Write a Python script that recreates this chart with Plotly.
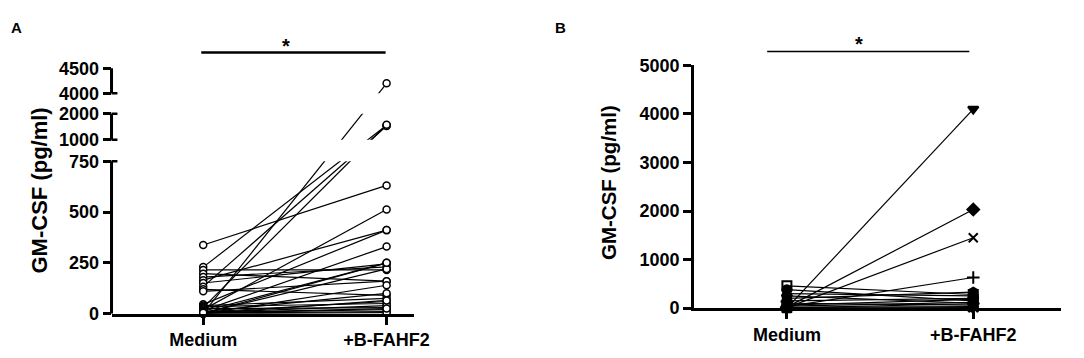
import plotly.graph_objects as go

W, H = 1084, 358
OFF = 8                      # default page margin of the html body
FW, FH = W - 2 * OFF, H - 2 * OFF
FONT = "Liberation Sans, Arial, sans-serif"

# ---------------- data ----------------
conditions = ["Medium", "+B-FAHF2"]

# Panel A (pg/ml), one value per donor
a_medium = [338, 229, 215, 197, 180, 165, 151, 133, 120, 110, 46, 40, 35, 30, 25,
            20, 15, 12, 10, 8, 6, 5, 4, 3, 2, 1, 0, 0, 0, 5]
a_bfahf2 = [631, 1560, 215, 160, 230, 411, 245, 1530, 90, 160, 411, 75, 50, 1580, 30,
            512, 330, 250, 100, 60, 40, 20, 10, 220, 250, 4200, 5, 65, 140, 25]
a_tick_values = [0, 250, 500, 750, 1000, 2000, 4000, 4500]
a_segments = [(0, 750), (1000, 2000), (4000, 4500)]

# Panel B (pg/ml)
b_medium = [0, 20, 10, 30, 460, 380, 300, 250, 200, 150, 100, 60, 40, 15, 5, 0]
b_bfahf2 = [4100, 2030, 1450, 630, 280, 150, 250, 100, 330, 200, 60, 180, 120, 30, 90, 10]
b_symbols = ["triangle-down", "diamond", "x-thin", "cross-thin", "square-open",
             "circle", "triangle-up", "circle", "hexagon", "pentagon", "star",
             "square", "triangle-left", "triangle-right", "hourglass", "bowtie"]
b_tick_values = [0, 1000, 2000, 3000, 4000, 5000]

# ---------------- layout helpers (positions only, in window pixels) ----------------
def pxx(x):
    return min(max((x - OFF) / FW, 0), 1)

def pxy(y):
    return min(max(1 - (y - OFF) / FH, 0), 1)

# broken axis: display extents (pixels above the baseline) for each segment
seg_display = [(0, 164), (187, 215), (237, 264)]

def brk(v):
    for (lo, hi), (d0, d1) in zip(a_segments, seg_display):
        if lo <= v <= hi:
            return d0 + (v - lo) * (d1 - d0) / (hi - lo)
    for i in range(len(a_segments) - 1):
        hi = a_segments[i][1]
        lo2 = a_segments[i + 1][0]
        if hi < v < lo2:
            d_hi = seg_display[i][1]
            d_lo2 = seg_display[i + 1][0]
            return d_hi + (v - hi) * (d_lo2 - d_hi) / (lo2 - hi)
    return seg_display[-1][1]

fig = go.Figure()

# ---------------- Panel A ----------------
xa, ya = [], []
for m, b in zip(a_medium, a_bfahf2):
    xa += [0, 1, None]
    ya += [brk(m), brk(b), None]
fig.add_trace(go.Scatter(x=xa, y=ya, mode="lines", line=dict(color="black", width=1.2),
                         xaxis="x", yaxis="y", hoverinfo="skip", showlegend=False))
fig.add_trace(go.Scatter(
    x=[0] * len(a_medium) + [1] * len(a_bfahf2),
    y=[brk(v) for v in a_medium] + [brk(v) for v in a_bfahf2],
    mode="markers",
    marker=dict(symbol="circle", size=7, color="white", line=dict(color="black", width=1.5)),
    xaxis="x", yaxis="y", showlegend=False, cliponaxis=False))

# ---------------- Panel B ----------------
xb, yb = [], []
for m, b in zip(b_medium, b_bfahf2):
    xb += [0, 1, None]
    yb += [m, b, None]
fig.add_trace(go.Scatter(x=xb, y=yb, mode="lines", line=dict(color="black", width=1.2),
                         xaxis="x2", yaxis="y2", hoverinfo="skip", showlegend=False))
fig.add_trace(go.Scatter(
    x=[0] * len(b_medium) + [1] * len(b_bfahf2),
    y=b_medium + b_bfahf2,
    mode="markers",
    marker=dict(symbol=b_symbols + b_symbols, size=9, color="black",
                line=dict(color="black", width=2)),
    xaxis="x2", yaxis="y2", showlegend=False, cliponaxis=False))

tickfont = dict(family=FONT, size=18, color="black", weight="bold")

# axes A: baseline at y=326 px, y axis at x=113 px; Medium at 206, +B-FAHF2 at 392
a_x0, a_x1 = 113, 420
a_r0 = -(206 - a_x0) / 186
a_r1 = a_r0 + (a_x1 - a_x0) / 186
fig.update_layout(
    xaxis=dict(domain=[pxx(a_x0), pxx(a_x1)], range=[a_r0, a_r1], anchor="y",
               tickvals=[0, 1], ticktext=conditions, showline=True, linewidth=3,
               linecolor="black", ticks="outside", ticklen=8, tickwidth=2.5,
               tickcolor="black", tickfont=tickfont, showgrid=False, zeroline=False),
    yaxis=dict(domain=[pxy(326), 1], range=[0, 326 - OFF], anchor="x",
               tickvals=[brk(v) for v in a_tick_values],
               ticktext=[str(v) for v in a_tick_values],
               showline=False, ticks="outside", ticklen=8, tickwidth=2.5,
               tickcolor="black", tickfont=tickfont, showgrid=False, zeroline=False),
)

# axes B: baseline at y=320, top 5000 at y=59, y axis at x=704; Medium at 798, +B-FAHF2 at 987
b_x0, b_x1 = 704, 1076
b_r0 = -(798 - b_x0) / 189
b_r1 = b_r0 + (b_x1 - b_x0) / 189
fig.update_layout(
    xaxis2=dict(domain=[pxx(b_x0), pxx(b_x1)], range=[b_r0, b_r1], anchor="y2",
                tickvals=[0, 1], ticktext=conditions, showline=True, linewidth=3,
                linecolor="black", ticks="outside", ticklen=8, tickwidth=2.5,
                tickcolor="black", tickfont=tickfont, showgrid=False, zeroline=False),
    yaxis2=dict(domain=[pxy(320), pxy(59)], range=[0, 5000], anchor="x2",
                tickvals=b_tick_values, ticktext=[str(v) for v in b_tick_values],
                showline=True, linewidth=3, linecolor="black",
                ticks="outside", ticklen=8, tickwidth=2.5,
                tickcolor="black", tickfont=tickfont, showgrid=False, zeroline=False),
)

shapes = []
# gaps of the broken axis (hide lines there)
for i in range(len(seg_display) - 1):
    shapes.append(dict(type="rect", xref="paper", yref="y",
                       x0=pxx(a_x0 + 2), x1=pxx(a_x1 + 4),
                       y0=seg_display[i][1], y1=seg_display[i + 1][0],
                       fillcolor="white", line=dict(width=0), layer="above"))
# axis segments
for lo, hi in a_segments:
    shapes.append(dict(type="line", xref="paper", yref="y", x0=pxx(a_x0), x1=pxx(a_x0),
                       y0=brk(lo), y1=brk(hi), line=dict(color="black", width=3),
                       layer="above"))
# segment caps on the right of the axis
for v in [750, 1000, 2000, 4000]:
    shapes.append(dict(type="line", xref="paper", yref="y", x0=pxx(a_x0), x1=pxx(a_x0 + 6),
                       y0=brk(v), y1=brk(v), line=dict(color="black", width=2.5),
                       layer="above"))
# significance bars
shapes.append(dict(type="line", xref="paper", yref="paper", x0=pxx(204), x1=pxx(391),
                   y0=pxy(45), y1=pxy(45), line=dict(color="black", width=2.5)))
shapes.append(dict(type="line", xref="paper", yref="paper", x0=pxx(778), x1=pxx(983),
                   y0=pxy(44), y1=pxy(44), line=dict(color="black", width=1.5)))

bold = dict(family=FONT, color="black", weight="bold")
annotations = [
    dict(text="A", x=pxx(17), y=pxy(18), xref="paper", yref="paper", showarrow=False,
         font=dict(size=15, **bold), xanchor="center", yanchor="middle"),
    dict(text="B", x=pxx(568), y=pxy(18), xref="paper", yref="paper", showarrow=False,
         font=dict(size=15, **bold), xanchor="center", yanchor="middle"),
    dict(text="*", x=pxx(290), y=pxy(38), xref="paper", yref="paper", showarrow=False,
         font=dict(size=20, **bold), xanchor="center", yanchor="middle"),
    dict(text="*", x=pxx(871), y=pxy(36), xref="paper", yref="paper", showarrow=False,
         font=dict(size=20, **bold), xanchor="center", yanchor="middle"),
    dict(text="GM-CSF (pg/ml)", x=pxx(40), y=pxy(194), xref="paper", yref="paper",
         showarrow=False, textangle=-90, font=dict(size=22, **bold),
         xanchor="center", yanchor="middle"),
    dict(text="GM-CSF (pg/ml)", x=pxx(617), y=pxy(185), xref="paper", yref="paper",
         showarrow=False, textangle=-90, font=dict(size=20.5, **bold),
         xanchor="center", yanchor="middle"),
]

fig.update_layout(
    width=FW, height=FH, margin=dict(l=0, r=0, t=0, b=0),
    paper_bgcolor="white", plot_bgcolor="white",
    shapes=shapes, annotations=annotations, showlegend=False,
    font=dict(family=FONT, color="black"),
)

fig.write_html("out.html", config={"displayModeBar": False})
